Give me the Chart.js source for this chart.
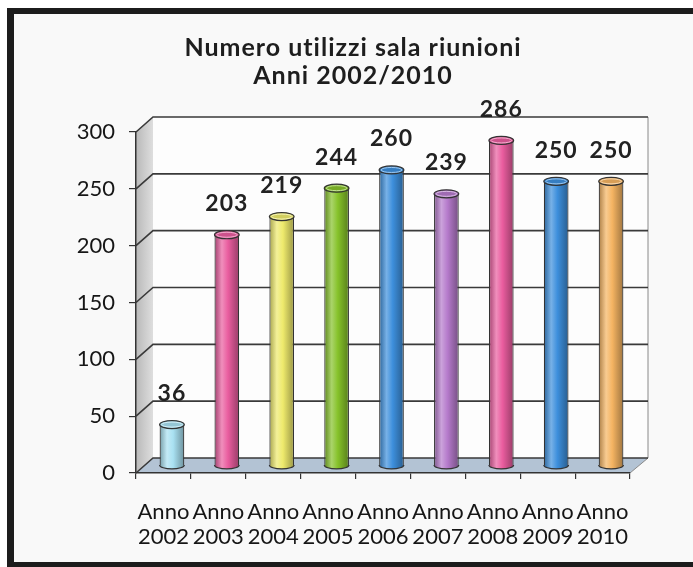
<!DOCTYPE html>
<html>
<head>
<meta charset="utf-8">
<script src="https://cdn.jsdelivr.net/npm/chart.js@4.4.0/dist/chart.umd.min.js"></script>
<style>
  html, body { margin: 0; padding: 0; background: #fff; overflow: hidden; }
  canvas { display: block; }
</style>
</head>
<body>
<canvas id="myChart" width="693" height="567" style="width:693px;height:567px"></canvas>
<script>
const titleLines = ["Numero utilizzi sala riunioni", "Anni 2002/2010"];
const categories = ["Anno 2002", "Anno 2003", "Anno 2004", "Anno 2005", "Anno 2006", "Anno 2007", "Anno 2008", "Anno 2009", "Anno 2010"];
const usage = [36, 203, 219, 244, 260, 239, 286, 250, 250];
const yTicks = [0, 50, 100, 150, 200, 250, 300];
const barColors = ["#a9e1f2", "#e95d9f", "#eeea6c", "#86c22a", "#3d8fdc", "#b57acb", "#ea5d9f", "#3d8fdc", "#f5b462"];

const FONT = "Lato, 'Open Sans', sans-serif";
const DEPTH = { x: 17, y: -15 };

// mix a hex colour toward another one
function mix(hex, target, t) {
  const a = parseInt(hex.slice(1), 16);
  const b = parseInt(target.slice(1), 16);
  const ch = (v, s) => (v >> s) & 255;
  const r = Math.round(ch(a, 16) + (ch(b, 16) - ch(a, 16)) * t);
  const g = Math.round(ch(a, 8) + (ch(b, 8) - ch(a, 8)) * t);
  const bl = Math.round(ch(a, 0) + (ch(b, 0) - ch(a, 0)) * t);
  return `rgb(${r},${g},${bl})`;
}

function cylinderFill(ctx, cx, w, color) {
  if (!isFinite(cx) || !isFinite(w) || w <= 0) return color;
  const g = ctx.createLinearGradient(cx - w / 2, 0, cx + w / 2, 0);
  g.addColorStop(0, mix(color, "#000000", 0.3));
  g.addColorStop(0.3, mix(color, "#ffffff", 0.3));
  g.addColorStop(0.55, color);
  g.addColorStop(1, mix(color, "#000000", 0.35));
  return g;
}

// #################### 3D room, frame and title ####################

const room3d = {
  id: "room3d",
  beforeDraw(chart) {
    const ctx = chart.ctx;
    const a = chart.chartArea;
    const y = chart.scales.y;
    const w = chart.width, h = chart.height;

    ctx.save();
    ctx.fillStyle = "#ffffff";
    ctx.fillRect(0, 0, w, h);
    ctx.fillStyle = "#f9f9f9";
    ctx.fillRect(14, 14, w - 14, h - 19);
    // frame: top, left and bottom only
    ctx.fillStyle = "#1c1c1c";
    ctx.fillRect(7, 8, w - 7, 6);
    ctx.fillRect(7, 8, 7, h - 8);
    ctx.fillRect(7, h - 5, w - 7, 5);

    const bl = a.left + DEPTH.x;
    const br = a.right + DEPTH.x + 1;
    const bt = a.top + DEPTH.y;
    const bb = a.bottom + DEPTH.y;

    // back wall
    ctx.fillStyle = "#fdfdfd";
    ctx.fillRect(bl, bt, br - bl, bb - bt);

    // side wall
    const sg = ctx.createLinearGradient(a.left, 0, bl, 0);
    sg.addColorStop(0, "#b9b9b9");
    sg.addColorStop(1, "#dedede");
    ctx.fillStyle = sg;
    ctx.beginPath();
    ctx.moveTo(a.left, a.top);
    ctx.lineTo(bl, bt);
    ctx.lineTo(bl, bb);
    ctx.lineTo(a.left, a.bottom);
    ctx.closePath();
    ctx.fill();

    // floor
    ctx.fillStyle = "#b3c3d4";
    ctx.beginPath();
    ctx.moveTo(a.left, a.bottom);
    ctx.lineTo(bl, bb);
    ctx.lineTo(br, bb);
    ctx.lineTo(a.right, a.bottom);
    ctx.closePath();
    ctx.fill();
    ctx.strokeStyle = "#8a8a8a";
    ctx.lineWidth = 1;
    ctx.beginPath();
    ctx.moveTo(a.right, a.bottom);
    ctx.lineTo(br, bb);
    ctx.moveTo(br, bt);
    ctx.lineTo(br, bb);
    ctx.stroke();

    // gridlines on the walls
    ctx.strokeStyle = "#3a3a3a";
    ctx.lineWidth = 1.6;
    yTicks.forEach((v) => {
      const py = y.getPixelForValue(v);
      ctx.beginPath();
      ctx.moveTo(a.left, py);
      ctx.lineTo(bl, py + DEPTH.y);
      ctx.lineTo(br, py + DEPTH.y);
      ctx.stroke();
    });

    // title
    ctx.fillStyle = "#1e1e1e";
    ctx.font = `bold 25px ${FONT}`;
    ctx.letterSpacing = "1px";
    ctx.textAlign = "center";
    ctx.textBaseline = "middle";
    ctx.fillText(titleLines[0], 353, 48);
    ctx.fillText(titleLines[1], 353, 76);
    ctx.restore();
  },
  beforeDatasetsDraw(chart) {
    chart.ctx.save();
    chart.ctx.translate(DEPTH.x / 2, DEPTH.y / 2);
  },
  afterDatasetsDraw(chart) {
    const ctx = chart.ctx;
    const meta = chart.getDatasetMeta(0);
    meta.data.forEach((bar, i) => {
      const rx = bar.width / 2;
      const color = barColors[i];
      ctx.lineWidth = 1.2;
      ctx.strokeStyle = "#333333";
      // bottom
      ctx.fillStyle = cylinderFill(ctx, bar.x, bar.width, color);
      ctx.beginPath();
      ctx.ellipse(bar.x, bar.base, rx, 4, 0, 0, Math.PI);
      ctx.fill();
      ctx.stroke();
      // top cap
      ctx.fillStyle = mix(color, "#000000", 0.12);
      ctx.beginPath();
      ctx.ellipse(bar.x, bar.y, rx, 4, 0, 0, Math.PI * 2);
      ctx.fill();
      ctx.stroke();
      ctx.strokeStyle = mix(color, "#ffffff", 0.5);
      ctx.lineWidth = 1;
      ctx.beginPath();
      ctx.ellipse(bar.x, bar.y, rx - 2, 2.5, 0, 0, Math.PI * 2);
      ctx.stroke();
      // value label
      ctx.fillStyle = "#222222";
      ctx.font = `bold 23px ${FONT}`;
      ctx.letterSpacing = "1px";
      ctx.textAlign = "center";
      ctx.textBaseline = "middle";
      ctx.fillText(String(usage[i]), bar.x, bar.y - 31);
      ctx.letterSpacing = "0px";
    });
    ctx.restore();
  },
};

// #################### Chart.JS ####################

const ctx = document.getElementById("myChart");
const myChart = new Chart(ctx, {
  type: "bar",
  data: {
    labels: categories.map((c) => c.split(" ")),
    datasets: [
      {
        data: usage,
        backgroundColor: (c) => {
          if (c.type !== "data") return barColors[0];
          const xs = c.chart.scales.x;
          if (!xs) return barColors[c.dataIndex];
          const cx = xs.getPixelForValue(c.dataIndex);
          const w = (xs.width / categories.length) * 0.45;
          return cylinderFill(c.chart.ctx, cx, w, barColors[c.dataIndex]);
        },
        borderColor: "#333333",
        borderWidth: 1.2,
        barPercentage: 0.9,
        categoryPercentage: 0.5,
      },
    ],
  },
  options: {
    responsive: false,
    animation: false,
    layout: {
      padding: { top: 132, left: 16, right: 63, bottom: 9 },
    },
    plugins: {
      legend: { display: false },
      title: { display: false },
      tooltip: { enabled: false },
    },
    scales: {
      x: {
        afterFit: (s) => { s.height = 85; },
        grid: {
          offset: true,
          drawOnChartArea: false,
          tickLength: 6,
          color: "#333333",
          lineWidth: 1.2,
        },
        border: { display: true, color: "#333333", width: 1.5 },
        ticks: {
          color: "#161616",
          padding: 20,
          maxRotation: 0,
          autoSkip: false,
          font: { family: FONT, size: 22, lineHeight: 1.14 },
        },
      },
      y: {
        min: 0,
        max: 300,
        afterFit: (s) => { s.width = 120; },
        grid: {
          drawOnChartArea: false,
          tickLength: 7,
          color: "#333333",
          lineWidth: 1.2,
        },
        border: { display: true, color: "#333333", width: 1.5 },
        ticks: {
          stepSize: 50,
          color: "#161616",
          padding: 14,
          font: { family: FONT, size: 22 },
        },
      },
    },
  },
  plugins: [room3d],
});
</script>
</body>
</html>
